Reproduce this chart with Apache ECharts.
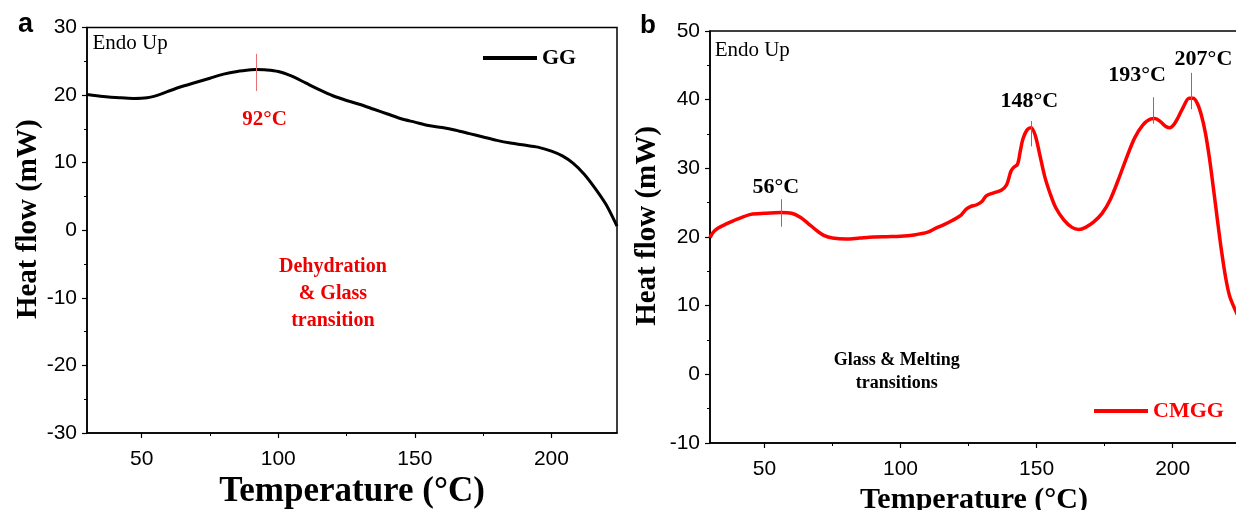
<!DOCTYPE html>
<html>
<head>
<meta charset="utf-8">
<title>DSC curves</title>
<script src="https://cdn.jsdelivr.net/npm/echarts@6/dist/echarts.min.js"></script>
<style>
    html, body { margin: 0; padding: 0; background: #fff; }
    #chart { width: 1236px; height: 510px; }
</style>
</head>
<body>
<div id="chart"></div>
<script>
// GG curve (panel a)
const ggTemp = [30, 36, 42, 47, 52, 56, 60, 65, 70, 75, 80, 85, 90, 92, 95, 100, 105, 110, 115, 120,
    125, 130, 135, 140, 145, 150, 155, 160, 165, 170, 175, 180, 185, 190, 195, 200, 204, 208, 212, 216, 220, 224];
const ggFlow = [20.1, 19.8, 19.6, 19.5, 19.6, 20.0, 20.6, 21.3, 21.9, 22.5, 23.1, 23.5, 23.75, 23.8, 23.75, 23.5, 22.8, 21.8, 20.8, 19.9,
    19.2, 18.6, 17.9, 17.2, 16.5, 16.0, 15.5, 15.2, 14.8, 14.3, 13.8, 13.3, 12.9, 12.6, 12.3, 11.7, 11.0, 9.9, 8.3, 6.2, 3.8, 0.6];

// CMGG curve (panel b)
const cmTemp = [30, 31, 33, 36, 40, 45, 50, 56, 60, 63, 66, 69, 72, 75, 80, 85, 90, 95, 100, 105,
    110, 113, 116, 119, 122, 124, 125.5, 128, 130, 131.5, 134, 137, 139, 140.5, 141.5, 143, 144, 145, 146.5, 148,
    149.5, 151, 153, 155, 157, 160, 163, 165.5, 168, 171, 174, 177, 180, 183, 186, 189, 192, 193.5, 195.5, 197.5,
    199, 200.5, 202, 204, 206, 207.5, 209, 210.5, 212, 213.5, 215, 216.5, 218, 219.5, 221, 224];
const cmFlow = [19.9, 20.6, 21.3, 21.9, 22.6, 23.3, 23.45, 23.55, 23.45, 22.9, 22.0, 21.0, 20.2, 19.85, 19.7, 19.85, 20.0, 20.05, 20.1, 20.3,
    20.7, 21.3, 21.8, 22.4, 23.1, 24.0, 24.4, 24.7, 25.2, 26.0, 26.4, 26.8, 27.6, 29.5, 30.1, 30.6, 32.5, 34.3, 35.6, 35.9,
    34.8, 32.3, 28.8, 26.3, 24.3, 22.5, 21.4, 21.1, 21.4, 22.2, 23.4, 25.4, 28.3, 31.5, 34.4, 36.3, 37.2, 37.25, 36.8, 36.1,
    35.9, 36.4, 37.4, 39.0, 40.2, 40.2, 39.5, 37.8, 35.2, 31.5, 27.0, 22.3, 17.8, 14.0, 11.3, 8.5];

// axis ticks
const xTicks = [50, 100, 150, 200];
const xMinorTicks = [75, 125, 175];
const ggYTicks = [-30, 30];
const cmYTicks = [-10, 50];

// peak temperatures
const ggPeaks = [92];
const cmPeaks = [56, 148, 193, 207];

const SERIF = '"Liberation Serif", "Times New Roman", serif';
const SANS = '"Liberation Sans", Arial, sans-serif';

const chart = echarts.init(document.getElementById('chart'));

function zip(xs, ys) {
    return xs.map((x, i) => [x, ys[i]]);
}

// main x axis + a second one carrying only the short minor ticks
function xAxes(gridIndex, labelMargin, nameGap, nameSize) {
    return [{
        gridIndex: gridIndex,
        type: 'value',
        min: 30,
        max: 224,
        axisLine: { show: true, onZero: false, lineStyle: { color: '#000', width: 1.5 } },
        axisTick: { show: true, customValues: xTicks, length: 5, lineStyle: { color: '#000', width: 1.2 } },
        axisLabel: { customValues: xTicks, margin: labelMargin, fontFamily: SANS, fontSize: 21, color: '#000' },
        splitLine: { show: false },
        name: 'Temperature (°C)',
        nameLocation: 'middle',
        nameGap: nameGap,
        nameTextStyle: { fontFamily: SERIF, fontWeight: 'bold', fontSize: nameSize, color: '#000' }
    }, {
        gridIndex: gridIndex,
        type: 'value',
        min: 30,
        max: 224,
        position: 'bottom',
        axisLine: { show: false, onZero: false },
        axisTick: { show: true, customValues: xMinorTicks, length: 3, lineStyle: { color: '#000', width: 1 } },
        axisLabel: { show: false },
        splitLine: { show: false }
    }];
}

function yAxis(gridIndex, range, nameGap) {
    return {
        gridIndex: gridIndex,
        type: 'value',
        min: range[0],
        max: range[1],
        interval: 10,
        axisLine: { show: true, onZero: false, lineStyle: { color: '#000', width: 1.5 } },
        axisTick: { show: true, length: 5, lineStyle: { color: '#000', width: 1.2 } },
        minorTick: { show: true, splitNumber: 2, length: 3, lineStyle: { color: '#000', width: 1 } },
        axisLabel: { margin: 10, fontFamily: SANS, fontSize: 21, color: '#000' },
        splitLine: { show: false },
        name: 'Heat flow (mW)',
        nameLocation: 'middle',
        nameGap: nameGap,
        // left padding nudges the rotated title upwards
        nameTextStyle: { fontFamily: SERIF, fontWeight: 'bold', fontSize: 29, color: '#000', padding: [0, 0, 0, 22] }
    };
}

// text notes placed in data coordinates
function note(name, coord, extra) {
    return Object.assign({ name: name, coord: coord }, extra ? { label: extra } : {});
}

function tickLines(temps, ranges) {
    return temps.map((t, i) => [{ coord: [t, ranges[i][0]] }, { coord: [t, ranges[i][1]] }]);
}

const noteLabel = {
    show: true,
    position: 'inside',
    formatter: '{b}',
    fontFamily: SERIF,
    fontWeight: 'bold',
    fontSize: 22,
    color: '#000'
};

const endoLabel = { align: 'left', fontWeight: 'normal', fontSize: 21, color: '#000' };

const gridBase = {
    show: true,
    borderColor: '#000',
    borderWidth: 1.5,
    backgroundColor: 'transparent',
    containLabel: false,
    outerBoundsMode: 'none'
};

const option = {
    animation: false,
    backgroundColor: '#fff',
    grid: [
        Object.assign({ left: 87, top: 27.5, width: 530, height: 405.5 }, gridBase),
        Object.assign({ left: 710, top: 31, width: 528, height: 412 }, gridBase)
    ],
    xAxis: xAxes(0, 16, 35, 35).concat(xAxes(1, 16, 32, 30)),
    yAxis: [yAxis(0, ggYTicks, 44), yAxis(1, cmYTicks, 48)],
    legend: [{
        data: ['GG'],
        left: 483,
        top: 47,
        padding: 0,
        icon: 'rect',
        itemWidth: 54,
        itemHeight: 4,
        selectedMode: false,
        textStyle: { fontFamily: SERIF, fontWeight: 'bold', fontSize: 22, color: '#000' }
    }, {
        data: ['CMGG'],
        left: 1094,
        top: 400,
        padding: 0,
        icon: 'rect',
        itemWidth: 54,
        itemHeight: 4,
        selectedMode: false,
        textStyle: { fontFamily: SERIF, fontWeight: 'bold', fontSize: 22, color: '#f00' }
    }],
    graphic: [
        { type: 'text', left: 18, top: 11, style: { text: 'a', font: 'bold 27px "Liberation Sans"', fill: '#000' } },
        { type: 'text', left: 640, top: 13, style: { text: 'b', font: 'bold 26px "Liberation Sans"', fill: '#000' } }
    ],
    series: [{
        name: 'GG',
        type: 'line',
        xAxisIndex: 0,
        yAxisIndex: 0,
        data: zip(ggTemp, ggFlow),
        smooth: 0.3,
        showSymbol: false,
        lineStyle: { color: '#000', width: 3 },
        itemStyle: { color: '#000' },
        markLine: {
            silent: true,
            symbol: ['none', 'none'],
            label: { show: false },
            lineStyle: { color: '#e87070', width: 1, type: 'solid' },
            data: tickLines(ggPeaks, [[20.6, 26.1]])
        },
        markPoint: {
            silent: true,
            symbol: 'circle',
            symbolSize: 1,
            itemStyle: { color: 'rgba(0,0,0,0)' },
            label: noteLabel,
            data: [
                note(ggPeaks[0] + '°C', [95, 16.4], { color: '#e00', fontSize: 21 }),
                note('Dehydration\n& Glass\ntransition', [120, -9.4], { color: '#e00', fontSize: 20, lineHeight: 27 }),
                note('Endo Up', [32, 27.6], endoLabel)
            ]
        }
    }, {
        name: 'CMGG',
        type: 'line',
        xAxisIndex: 2,
        yAxisIndex: 1,
        data: zip(cmTemp, cmFlow),
        smooth: 0.3,
        showSymbol: false,
        lineStyle: { color: '#f00', width: 3.5 },
        itemStyle: { color: '#f00' },
        markLine: {
            silent: true,
            symbol: ['none', 'none'],
            label: { show: false },
            lineStyle: { color: '#777', width: 1, type: 'solid' },
            data: tickLines(cmPeaks, [[21.5, 25.5], [33.2, 36.9], [36.5, 40.35], [38.6, 43.9]])
        },
        markPoint: {
            silent: true,
            symbol: 'circle',
            symbolSize: 1,
            itemStyle: { color: 'rgba(0,0,0,0)' },
            label: noteLabel,
            data: [
                note(cmPeaks[0] + '°C', [54.2, 27.3]),
                note(cmPeaks[1] + '°C', [147.3, 39.7]),
                note(cmPeaks[2] + '°C', [186.9, 43.6]),
                note(cmPeaks[3] + '°C', [211.3, 45.9]),
                note('Glass & Melting\ntransitions', [98.6, 0.4], { fontSize: 18, lineHeight: 23 }),
                note('Endo Up', [31.7, 47.2], endoLabel)
            ]
        }
    }]
};

chart.setOption(option);
</script>
</body>
</html>
